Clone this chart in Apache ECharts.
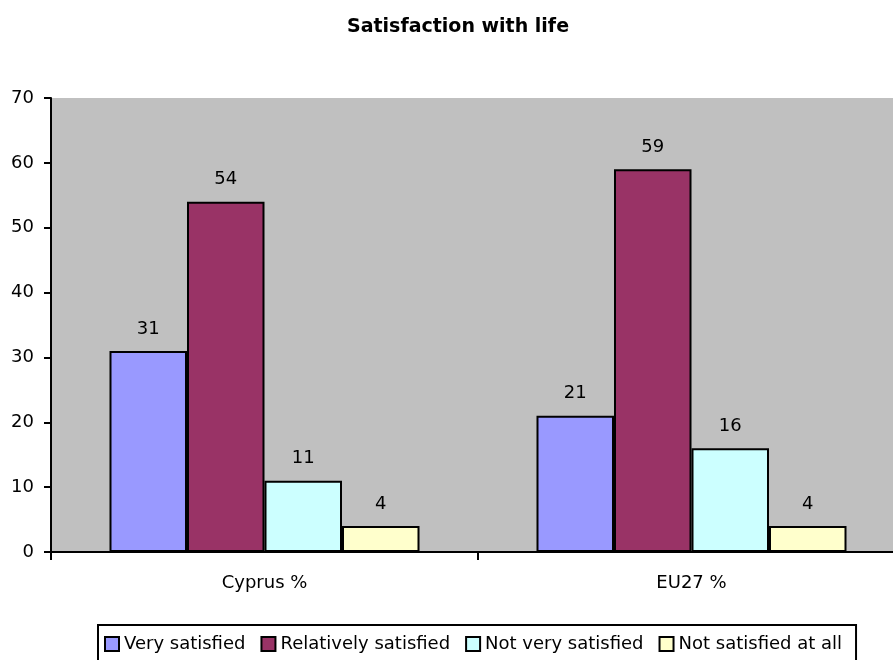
<!DOCTYPE html>
<html>
<head>
<meta charset="utf-8">
<script src="https://cdn.jsdelivr.net/npm/echarts@6/dist/echarts.min.js"></script>
<style>html,body{margin:0;padding:0;background:#fff;overflow:hidden;width:893px;height:660px}#c{width:905px;height:660px}</style>
</head>
<body>
<div id="c"></div>
<script>
const categories = ['Cyprus %', 'EU27 %'];
const seriesNames = ['Very satisfied', 'Relatively satisfied', 'Not very satisfied', 'Not satisfied at all'];
const verySatisfied = [31, 21];
const relativelySatisfied = [54, 59];
const notVerySatisfied = [11, 16];
const notSatisfiedAtAll = [4, 4];
const colors = ['#9999FF', '#993366', '#CCFFFF', '#FFFFCC'];
const values = [verySatisfied, relativelySatisfied, notVerySatisfied, notSatisfiedAtAll];
const font = '"DejaVu Sans", Verdana, sans-serif';

const chart = echarts.init(document.getElementById('c'), null, {renderer: 'canvas'});
chart.setOption({
  animation: false,
  backgroundColor: '#ffffff',
  title: {
    text: 'Satisfaction with life',
    left: 342, top: 13,
    textStyle: {fontFamily: font, fontSize: 19, fontWeight: 'bold', color: '#000'}
  },
  legend: {
    top: 625, left: 98,
    itemWidth: 14, itemHeight: 14, itemGap: 15,
    icon: 'rect',
    padding: [10, 14, 10, 6],
    backgroundColor: '#fff', borderColor: '#000', borderWidth: 2, borderRadius: 0,
    textStyle: {fontFamily: font, fontSize: 18, color: '#000'},
    data: seriesNames
  },
  grid: {left: 51, right: 0, top: 98, bottom: 108, show: true, backgroundColor: '#C0C0C0', borderWidth: 0},
  xAxis: {
    type: 'category', data: categories,
    axisLine: {lineStyle: {color: '#000', width: 2}},
    axisTick: {show: true, length: 8, lineStyle: {color: '#000', width: 2}},
    axisLabel: {fontFamily: font, fontSize: 18, color: '#000', margin: 22}
  },
  yAxis: {
    type: 'value', min: 0, max: 70, interval: 10,
    splitLine: {show: false},
    axisLine: {show: true, lineStyle: {color: '#000', width: 2}},
    axisTick: {show: true, length: 7, lineStyle: {color: '#000', width: 2}},
    axisLabel: {fontFamily: font, fontSize: 18, color: '#000', margin: 17}
  },
  series: seriesNames.map((n, i) => ({
    name: n, type: 'bar', data: values[i],
    barGap: '0%', barCategoryGap: '27.4%',
    itemStyle: {color: colors[i], borderColor: '#000', borderWidth: 2},
    label: {show: true, position: 'top', distance: 13, fontFamily: font, fontSize: 18, color: '#000'}
  }))
});
</script>
</body>
</html>
